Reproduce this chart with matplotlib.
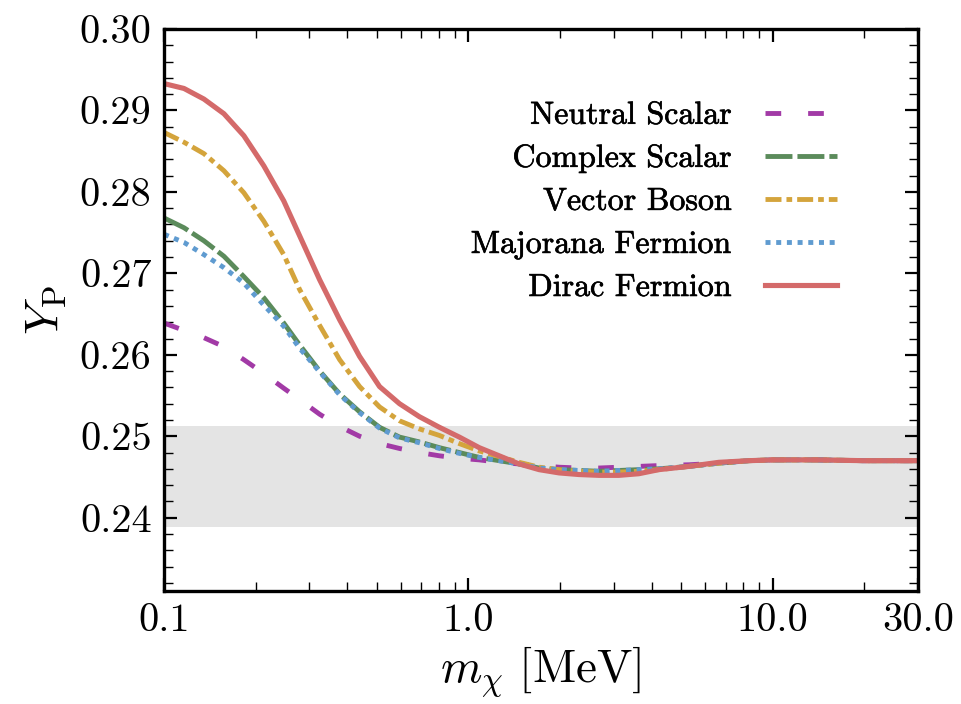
import matplotlib
matplotlib.use("Agg")
import matplotlib.pyplot as plt
import matplotlib.patheffects as pe
from matplotlib.ticker import FixedLocator, FixedFormatter, NullFormatter

plt.rcParams['font.family'] = ['cmr10', 'DejaVu Serif']
plt.rcParams['mathtext.fontset'] = 'cm'
plt.rcParams['axes.formatter.use_mathtext'] = True
plt.rcParams['lines.scale_dashes'] = False

# ---- data ----
m_chi = [0.100, 0.1163, 0.1352, 0.1573, 0.1829, 0.2127, 0.2473, 0.279, 0.3246,
         0.3775, 0.439, 0.5105, 0.5936, 0.6903, 0.8027, 0.9334, 1.085, 1.262,
         1.468, 1.707, 1.985, 2.308, 2.684, 3.121, 3.63, 4.221, 5.30, 6.65,
         8.34, 10.0, 14.0, 20.0, 30.0]

neutral_scalar = [0.2639, 0.2630, 0.2621, 0.2610, 0.2594, 0.2577, 0.2559, 0.2545,
                  0.2527, 0.2512, 0.2500, 0.2491, 0.2485, 0.2480, 0.2476, 0.2473,
                  0.2471, 0.2468, 0.2466, 0.2464, 0.2462, 0.2461, 0.2461, 0.2462,
                  0.2463, 0.2464, 0.2465, 0.2467, 0.2470, 0.2471, 0.2471, 0.2470,
                  0.2470]
complex_scalar = [0.2768, 0.2756, 0.2740, 0.2721, 0.2696, 0.2670, 0.2639, 0.2612,
                  0.2580, 0.2552, 0.2530, 0.2511, 0.2499, 0.2493, 0.2486, 0.2480,
                  0.2474, 0.2470, 0.2466, 0.2461, 0.2459, 0.2458, 0.2457, 0.2458,
                  0.2459, 0.2460, 0.2463, 0.2467, 0.2470, 0.2471, 0.2471, 0.2470,
                  0.2470]
vector_boson = [0.2873, 0.2861, 0.2847, 0.2826, 0.2799, 0.2764, 0.2723, 0.2680,
                0.2636, 0.2594, 0.2561, 0.2536, 0.2519, 0.2509, 0.2501, 0.2491,
                0.2482, 0.2475, 0.2468, 0.2462, 0.2459, 0.2457, 0.2456, 0.2456,
                0.2457, 0.2459, 0.2463, 0.2467, 0.2470, 0.2471, 0.2471, 0.2470,
                0.2470]
majorana_fermion = [0.2748, 0.2738, 0.2723, 0.2707, 0.2688, 0.2661, 0.2635, 0.2608,
                    0.2579, 0.2551, 0.2529, 0.2510, 0.2498, 0.2492, 0.2485, 0.2479,
                    0.2474, 0.2470, 0.2466, 0.2461, 0.2459, 0.2458, 0.2457, 0.2458,
                    0.2459, 0.2460, 0.2463, 0.2467, 0.2470, 0.2471, 0.2471, 0.2470,
                    0.2470]
dirac_fermion = [0.2933, 0.2927, 0.2914, 0.2896, 0.2869, 0.2832, 0.2789, 0.2746,
                 0.2692, 0.2643, 0.2598, 0.2561, 0.2540, 0.2524, 0.2511, 0.2499,
                 0.2486, 0.2476, 0.2466, 0.2459, 0.2455, 0.2453, 0.2452, 0.2452,
                 0.2454, 0.2459, 0.2463, 0.2468, 0.2470, 0.2471, 0.2471, 0.2470,
                 0.2470]

labels = ["Neutral Scalar", "Complex Scalar", "Vector Boson",
          "Majorana Fermion", "Dirac Fermion"]

band_low, band_high = 0.2388, 0.2512

x_ticks = [0.1, 1.0, 10.0, 30.0]
x_tick_labels = ["0.1", "1.0", "10.0", "30.0"]
y_ticks = [0.24, 0.25, 0.26, 0.27, 0.28, 0.29, 0.30]
y_tick_labels = ["0.24", "0.25", "0.26", "0.27", "0.28", "0.29", "0.30"]

# ---- styles ----
colors = ['#a23aa6', '#5b8b5b', '#d4a43c', '#5f9bd0', '#d46a6a']
styles = [(0, (11.3, 19.4)),
          (0, (19.4, 3.6)),
          (0, (11.5, 3.6, 4.1, 3.6)),
          (0, (3.6, 4.1)),
          '-']
widths = [3.5, 3.5, 3.5, 3.5, 3.7]
bold = [pe.withStroke(linewidth=0.45, foreground='black')]

fig = plt.figure(figsize=(9.61, 7.04), dpi=100)
ax = fig.add_axes([0.1707, 0.1605, 0.9553 - 0.1707, 0.9588 - 0.1605])

ax.axhspan(band_low, band_high, color='#e4e4e4', lw=0, zorder=0)

series = [neutral_scalar, complex_scalar, vector_boson, majorana_fermion, dirac_fermion]
for ys, lab, c, ls, lw in zip(series, labels, colors, styles, widths):
    ax.plot(m_chi, ys, color=c, linestyle=ls, lw=lw, label=lab, zorder=2)

ax.set_xscale('log')
ax.set_xlim(0.1, 30)
ax.set_ylim(0.231, 0.30)

ax.xaxis.set_major_locator(FixedLocator(x_ticks))
ax.xaxis.set_major_formatter(FixedFormatter(x_tick_labels))
ax.xaxis.set_minor_formatter(NullFormatter())
ax.yaxis.set_major_locator(FixedLocator(y_ticks))
ax.yaxis.set_major_formatter(FixedFormatter(y_tick_labels))
ax.yaxis.set_minor_locator(FixedLocator([0.232 + 0.002 * i for i in range(35)]))

ax.tick_params(which='both', direction='in', top=True, right=True, labelsize=29,
               pad=9)
ax.tick_params(which='major', length=9.5, width=1.6)
ax.tick_params(which='minor', length=6.5, width=1.0)
for s in ax.spines.values():
    s.set_linewidth(2.4)

ax.set_xlabel(r'$m_\chi\ [\mathrm{MeV}]$', fontsize=34, labelpad=4)
ax.set_ylabel(r'$Y_\mathrm{P}$', fontsize=34, labelpad=8)

leg = ax.legend(loc='upper right', bbox_to_anchor=(0.871, 0.856),
                bbox_transform=fig.transFigure, frameon=False, markerfirst=False,
                fontsize=23, handlelength=2.25, handletextpad=1.05,
                labelspacing=0.46, borderaxespad=0, borderpad=0)
for t in leg.get_texts():
    t.set_ha('right')
    t.set_path_effects(bold)

fig.savefig('out.png', dpi=100)
